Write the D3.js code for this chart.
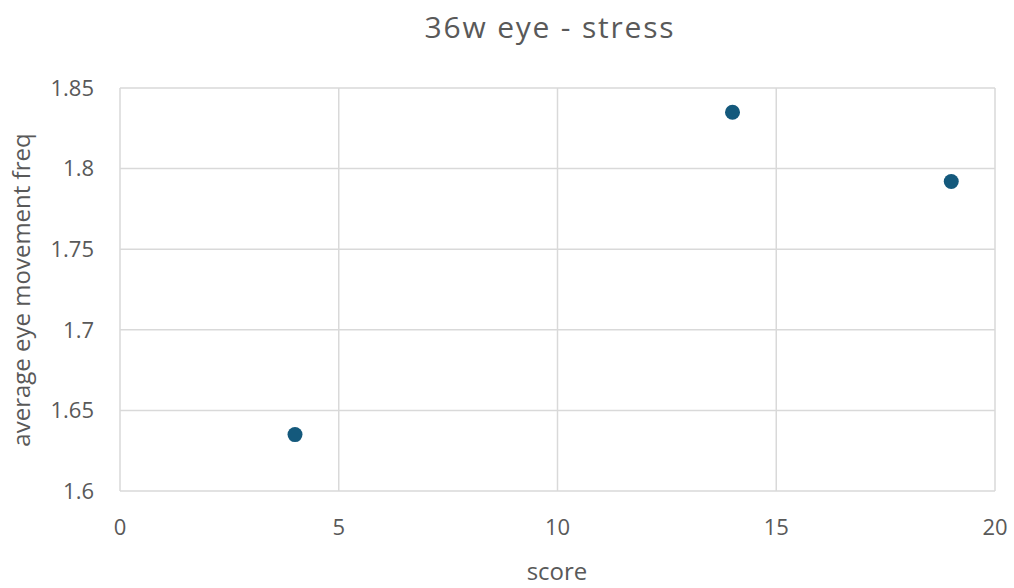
<!DOCTYPE html>
<html><head><meta charset="utf-8">
<script src="https://cdn.jsdelivr.net/npm/d3@7"></script>
<style>body{margin:0;background:#fff}svg{display:block}text{font-family:"Open Sans","Liberation Sans",sans-serif}</style>
</head><body>
<svg id="c" width="1014" height="588"></svg>
<script>
const title = "36w eye - stress";
const xTitle = "score";
const yTitle = "average eye movement freq";
const scores = [4, 14, 19];
const freqs = [1.635, 1.835, 1.792];
const xTicks = [0, 5, 10, 15, 20];
const yTicks = [1.6, 1.65, 1.7, 1.75, 1.8, 1.85];

const svg = d3.select("#c");
const m = {l:120, r:19, t:88, b:97};
const W = 1014, H = 588;
const x = d3.scaleLinear().domain([0,20]).range([m.l, W-m.r]);
const y = d3.scaleLinear().domain([1.6,1.85]).range([H-m.b, m.t]);
const grid = "#d9d9d9", txt = "#595959";

svg.append("g").selectAll("line.v").data(xTicks).join("line")
  .attr("x1", d=>x(d)).attr("x2", d=>x(d)).attr("y1", y(1.6)).attr("y2", y(1.85))
  .attr("stroke", grid).attr("stroke-width", 1.5);
svg.append("g").selectAll("line.h").data(yTicks).join("line")
  .attr("y1", d=>y(d)).attr("y2", d=>y(d)).attr("x1", x(0)).attr("x2", x(20))
  .attr("stroke", grid).attr("stroke-width", 1.5);

svg.append("g").selectAll("text").data(yTicks).join("text")
  .attr("x", 94).attr("y", d=>y(d)).attr("dy", "0.35em").attr("text-anchor","end")
  .attr("font-size", 22).attr("fill", txt).text(d=>d);
svg.append("g").selectAll("text").data(xTicks).join("text")
  .attr("x", d=>x(d)).attr("y", 527).attr("dy", "0.35em").attr("text-anchor","middle")
  .attr("font-size", 22).attr("fill", txt).text(d=>d);

svg.append("text").attr("x", 550).attr("y", 38).attr("text-anchor","middle")
  .attr("font-size", 30).attr("letter-spacing", 1.8).attr("fill", txt).text(title);
svg.append("text").attr("x", 557).attr("y", 572).attr("dy","0.35em").attr("text-anchor","middle")
  .attr("font-size", 24).attr("fill", txt).text(xTitle);
svg.append("text").attr("transform","translate(22,290) rotate(-90)").attr("dy","0.35em").attr("text-anchor","middle")
  .attr("font-size", 24).attr("fill", txt).text(yTitle);

svg.append("g").selectAll("circle").data(scores).join("circle")
  .attr("cx", d=>x(d)).attr("cy", (d,i)=>y(freqs[i])).attr("r", 7.5)
  .attr("fill", "#14597c");
</script>
</body></html>
